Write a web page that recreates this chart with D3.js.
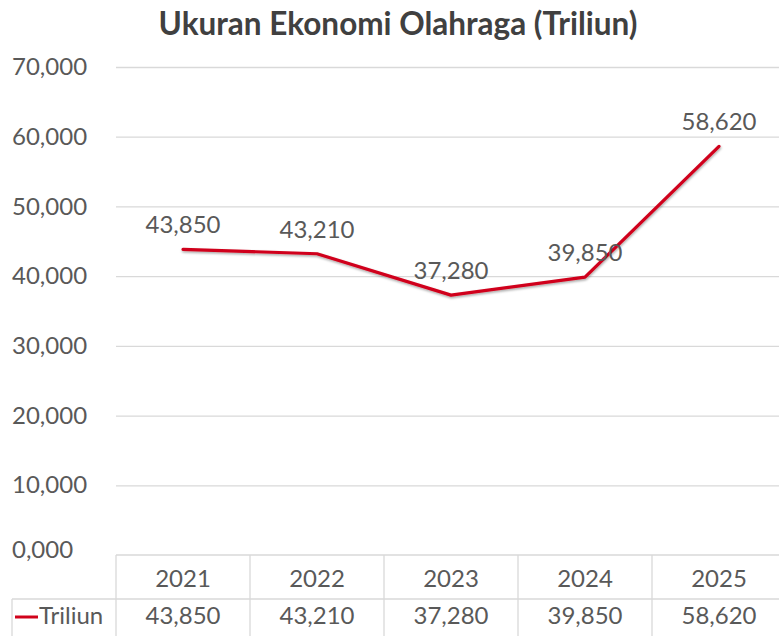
<!DOCTYPE html>
<html>
<head>
<meta charset="utf-8">
<script src="https://cdn.jsdelivr.net/npm/d3@7"></script>
<style>
  html, body { margin: 0; padding: 0; background: #ffffff; }
  svg { display: block; }
  text { font-family: Lato, "Open Sans", sans-serif; }
</style>
</head>
<body>
<svg id="chart" width="779" height="636"></svg>
<script>
const title = "Ukuran Ekonomi Olahraga (Triliun)";
const seriesName = "Triliun";
const years = ["2021", "2022", "2023", "2024", "2025"];
const values = [43850, 43210, 37280, 39850, 58620];
const yTicks = [0, 10000, 20000, 30000, 40000, 50000, 60000, 70000];
const yTickLabels = ["0,000", "10,000", "20,000", "30,000", "40,000", "50,000", "60,000", "70,000"];

(function () {
const svg = d3.select("#chart");
const W = 779, H = 636;
const pLeft = 116, pRight = 786, pTop = 67, pBottom = 555;
const row1 = 599, row2 = 640;
const textColor = "#595959";
const gridColor = "#d9d9d9";
const red = "#d0021b";
const fs = 24;

const x = d3.scaleBand().domain(years).range([pLeft, pRight]).padding(0);
const y = d3.scaleLinear().domain([0, 70000]).range([pBottom, pTop]);
const fmt = d3.format(",");

const defs = svg.append("defs");
const f = defs.append("filter").attr("id", "shadow").attr("x", "-10%").attr("y", "-10%").attr("width", "120%").attr("height", "130%");
f.append("feDropShadow").attr("dx", 0.5).attr("dy", 1.5).attr("stdDeviation", 1).attr("flood-color", "#000").attr("flood-opacity", 0.35);

svg.append("text")
  .attr("x", 398).attr("y", 35)
  .attr("text-anchor", "middle")
  .attr("font-size", 31.5).attr("font-weight", "bold")
  .attr("fill", "#404040")
  .text(title);

const yAxis = d3.axisLeft(y).tickValues(yTicks).tickSize(-(pRight - pLeft)).tickFormat((d, i) => yTickLabels[i]);
const gy = svg.append("g").attr("transform", `translate(${pLeft},0)`).call(yAxis);
gy.select(".domain").remove();
gy.selectAll(".tick line").attr("stroke", gridColor).attr("stroke-width", 1.3);
gy.selectAll(".tick line").filter(d => d === 0).remove();
gy.selectAll(".tick text")
  .attr("x", -104).attr("dy", "0.32em")
  .attr("text-anchor", "start")
  .attr("font-size", fs).attr("fill", textColor)
  .style("font-family", "Lato, 'Open Sans', sans-serif");
gy.selectAll(".tick").filter(d => d === 0).select("text").attr("dy", "0.1em");

const tbl = svg.append("g");
tbl.append("line").attr("x1", pLeft).attr("x2", W).attr("y1", pBottom).attr("y2", pBottom).attr("stroke", gridColor).attr("stroke-width", 1.3);
tbl.append("line").attr("x1", 12).attr("x2", W).attr("y1", row1).attr("y2", row1).attr("stroke", gridColor).attr("stroke-width", 1.3);
tbl.append("line").attr("x1", 12).attr("x2", 12).attr("y1", row1).attr("y2", row2).attr("stroke", gridColor).attr("stroke-width", 1.3);
tbl.selectAll("line.col").data(years).enter().append("line").attr("class", "col")
  .attr("x1", d => x(d)).attr("x2", d => x(d))
  .attr("y1", pBottom).attr("y2", row2)
  .attr("stroke", gridColor).attr("stroke-width", 1.3);
tbl.selectAll("text.yr").data(years).enter().append("text").attr("class", "yr")
  .attr("x", d => x(d) + x.bandwidth() / 2).attr("y", 587)
  .attr("text-anchor", "middle").attr("font-size", fs).attr("fill", textColor)
  .text(d => d);
tbl.selectAll("text.val").data(values).enter().append("text").attr("class", "val")
  .attr("x", (d, i) => x(years[i]) + x.bandwidth() / 2).attr("y", 624)
  .attr("text-anchor", "middle").attr("font-size", fs).attr("fill", textColor)
  .text(d => fmt(d));
tbl.append("line").attr("x1", 15).attr("x2", 38).attr("y1", 617).attr("y2", 617).attr("stroke", red).attr("stroke-width", 3);
tbl.append("text").attr("x", 39).attr("y", 624).attr("font-size", fs).attr("fill", textColor).text(seriesName);

const pts = years.map((yr, i) => ({ yr, v: values[i] }));
const line = d3.line().x(d => x(d.yr) + x.bandwidth() / 2).y(d => y(d.v));
svg.append("path").datum(pts)
  .attr("d", line)
  .attr("fill", "none").attr("stroke", red).attr("stroke-width", 3.2)
  .attr("stroke-linejoin", "round").attr("stroke-linecap", "round")
  .attr("filter", "url(#shadow)");

svg.selectAll("text.lbl").data(pts).enter().append("text").attr("class", "lbl")
  .attr("x", d => x(d.yr) + x.bandwidth() / 2)
  .attr("y", d => y(d.v) - 16)
  .attr("text-anchor", "middle").attr("font-size", fs).attr("fill", textColor)
  .text(d => fmt(d.v));
})();
</script>
</body>
</html>
